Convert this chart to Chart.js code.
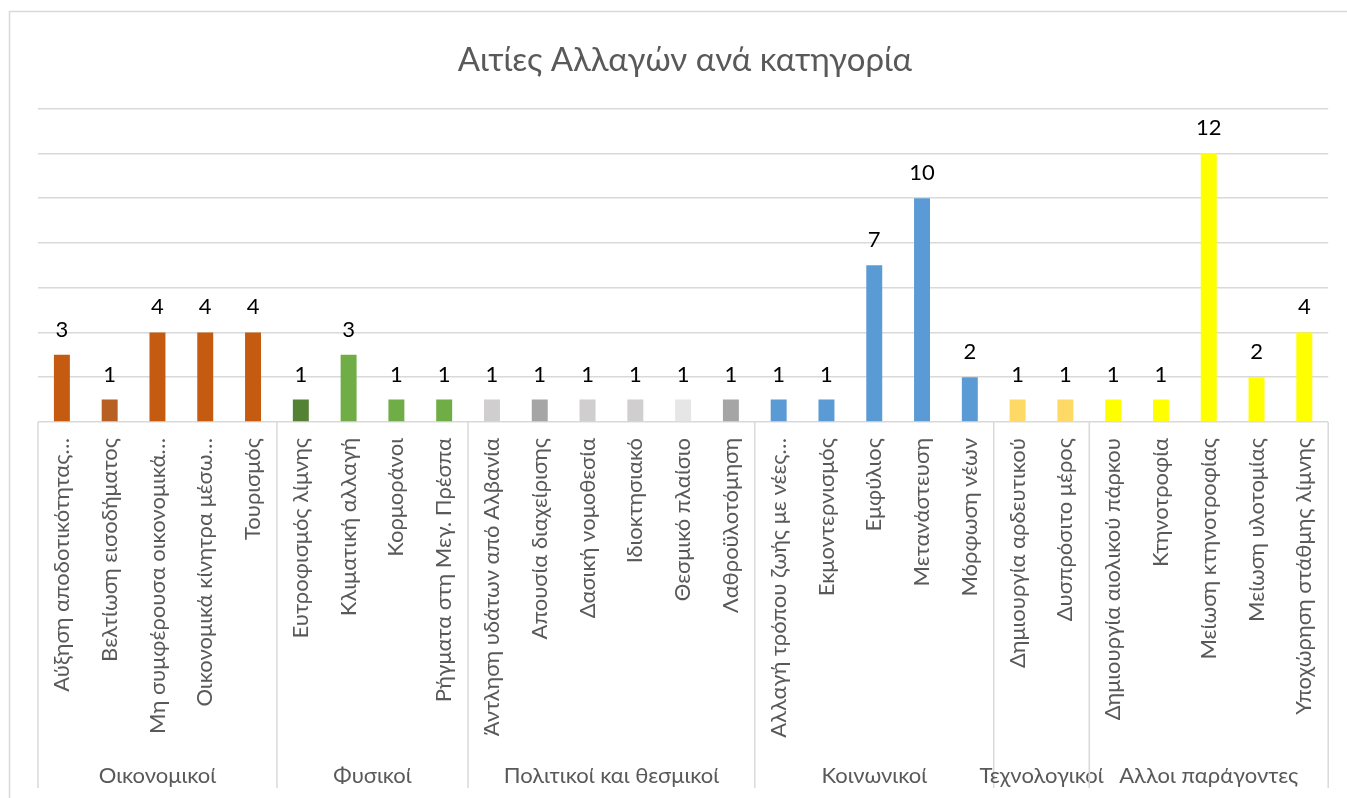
<!DOCTYPE html>
<html>
<head>
<meta charset="utf-8">
<script src="https://cdn.jsdelivr.net/npm/chart.js@4"></script>
<style>
  html, body { margin: 0; padding: 0; background: #fff; }
  #wrap { width: 1347px; height: 798px; }
</style>
</head>
<body>
<div id="wrap"><canvas id="causes"></canvas></div>
<script>
// data
var categories = [
    'Αύξηση αποδοτικότητας…', 'Βελτίωση εισοδήματος', 'Μη συμφέρουσα οικονομικά…',
    'Οικονομικά κίνητρα μέσω…', 'Τουρισμός',
    'Ευτροφισμός λίμνης', 'Κλιματική αλλαγή', 'Κορμοράνοι', 'Ρήγματα στη Μεγ. Πρέσπα',
    'Άντληση υδάτων από Αλβανία', 'Απουσία διαχείρισης', 'Δασική νομοθεσία',
    'Ιδιοκτησιακό', 'Θεσμικό πλαίσιο', 'Λαθροϋλοτόμηση',
    'Αλλαγή τρόπου ζωής με νέες…', 'Εκμοντερνισμός', 'Εμφύλιος', 'Μετανάστευση', 'Μόρφωση νέων',
    'Δημιουργία αρδευτικού', 'Δυσπρόσιτο μέρος',
    'Δημιουργία αιολικού πάρκου', 'Κτηνοτροφία', 'Μείωση κτηνοτροφίας', 'Μείωση υλοτομίας',
    'Υποχώρηση στάθμης λίμνης'
];
var groups = ['Οικονομικοί', 'Φυσικοί', 'Πολιτικοί και θεσμικοί', 'Κοινωνικοί', 'Τεχνολογικοί', 'Αλλοι παράγοντες'];
var groupSizes = [5, 4, 6, 5, 2, 5];
var counts = [3, 1, 4, 4, 4, 1, 3, 1, 1, 1, 1, 1, 1, 1, 1, 1, 1, 7, 10, 2, 1, 1, 1, 1, 12, 2, 4];

var barColors = [
    '#C55A11', '#B85F24', '#C55A11', '#C55A11', '#C55A11',
    '#548235', '#70AD47', '#70AD47', '#70AD47',
    '#D0CECE', '#A5A5A5', '#D0CECE', '#D0CECE', '#E7E6E6', '#A5A5A5',
    '#5B9BD5', '#5B9BD5', '#5B9BD5', '#5B9BD5', '#5B9BD5',
    '#FFD966', '#FFD966',
    '#FFFF00', '#FFFF00', '#FFFF00', '#FFFF00', '#FFFF00'
];

var FONT = "Lato, 'Noto Sans', sans-serif";

// white background + chart frame (only top/left edge visible in the shot)
var framePlugin = {
    id: 'frame',
    beforeDraw: function(chart) {
        var ctx = chart.ctx;
        ctx.save();
        ctx.fillStyle = '#fff';
        ctx.fillRect(0, 0, chart.width, chart.height);
        ctx.strokeStyle = '#D9D9D9';
        ctx.lineWidth = 1.5;
        ctx.strokeRect(9.5, 11.5, chart.width + 50, chart.height + 50);
        ctx.restore();
    }
};

// value labels above bars
var valueLabels = {
    id: 'valueLabels',
    afterDatasetsDraw: function(chart) {
        var ctx = chart.ctx;
        var meta = chart.getDatasetMeta(0);
        ctx.save();
        ctx.font = '22px ' + FONT;
        ctx.fillStyle = '#000';
        ctx.textAlign = 'center';
        ctx.textBaseline = 'alphabetic';
        meta.data.forEach(function(bar, i) {
            ctx.fillText(String(counts[i]), bar.x, bar.y - 18);
        });
        ctx.restore();
    }
};

// second level of the category axis: group separators and names
var groupAxis = {
    id: 'groupAxis',
    afterDraw: function(chart) {
        var ctx = chart.ctx;
        var x = chart.scales.x;
        var top = chart.chartArea.bottom;
        ctx.save();
        ctx.strokeStyle = '#D9D9D9';
        ctx.lineWidth = 1.5;
        ctx.font = '22px ' + FONT;
        ctx.fillStyle = '#595959';
        ctx.textAlign = 'center';
        ctx.textBaseline = 'alphabetic';
        var start = 0;
        var half = (x.getPixelForValue(1) - x.getPixelForValue(0)) / 2;
        for (var g = 0; g < groups.length; g++) {
            var end = start + groupSizes[g] - 1;
            var left = x.getPixelForValue(start) - half;
            var right = x.getPixelForValue(end) + half;
            ctx.beginPath();
            ctx.moveTo(left, top);
            ctx.lineTo(left, top + 366);
            if (g === groups.length - 1) {
                ctx.moveTo(right, top);
                ctx.lineTo(right, top + 366);
            }
            ctx.stroke();
            ctx.fillText(groups[g], (left + right) / 2, top + 361);
            start = end + 1;
        }
        ctx.restore();
    }
};

var ctx = document.getElementById('causes');
var causesChart = new Chart(ctx, {
    type: 'bar',
    data: {
        labels: categories,
        datasets: [{
            data: counts,
            backgroundColor: barColors,
            barPercentage: 0.334,
            categoryPercentage: 1
        }]
    },
    options: {
        responsive: true,
        maintainAspectRatio: false,
        animation: false,
        layout: { padding: { left: 38, right: 15, top: 0, bottom: 0 } },
        plugins: {
            legend: { display: false },
            tooltip: { enabled: false },
            title: {
                display: true,
                text: 'Αιτίες Αλλαγών ανά κατηγορία',
                color: '#595959',
                font: { family: FONT, size: 33, weight: 'normal' },
                padding: { top: 41, bottom: 28 }
            }
        },
        scales: {
            x: {
                grid: { display: false, drawTicks: false },
                border: { display: false },
                ticks: {
                    autoSkip: false,
                    maxRotation: 90,
                    minRotation: 90,
                    padding: 16,
                    color: '#595959',
                    font: { family: FONT, size: 22 }
                },
                afterFit: function(scale) { scale.height = 376; }
            },
            y: {
                min: 0,
                max: 14,
                ticks: { stepSize: 2, display: false },
                grid: { color: '#D9D9D9', lineWidth: 1.5, drawTicks: false },
                border: { display: false },
                afterFit: function(scale) { scale.width = 0; }
            }
        }
    },
    plugins: [framePlugin, valueLabels, groupAxis]
});
</script>
</body>
</html>
